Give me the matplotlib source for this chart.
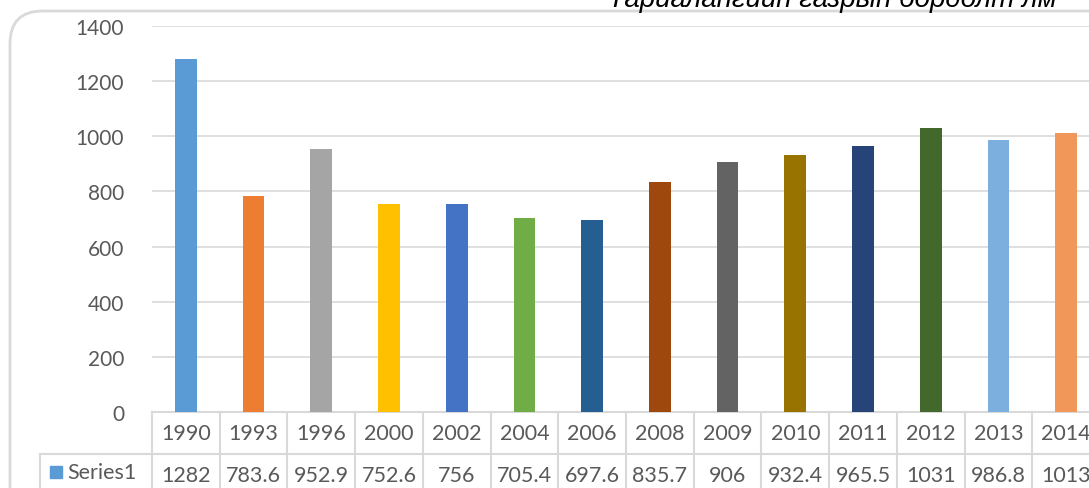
import matplotlib
matplotlib.use("Agg")
from matplotlib import pyplot as plt
from matplotlib import transforms
from matplotlib.patches import FancyBboxPatch, Rectangle

years = ["1990", "1993", "1996", "2000", "2002", "2004", "2006",
         "2008", "2009", "2010", "2011", "2012", "2013", "2014"]
values = [1282, 783.6, 952.9, 752.6, 756, 705.4, 697.6,
          835.7, 906, 932.4, 965.5, 1031, 986.8, 1013]
value_labels = ["1282", "783.6", "952.9", "752.6", "756", "705.4", "697.6",
                "835.7", "906", "932.4", "965.5", "1031", "986.8", "1013"]
colors = ["#5B9BD5", "#ED7D31", "#A5A5A5", "#FFC000", "#4472C4", "#70AD47",
          "#255E91", "#9E480E", "#636363", "#997300", "#264478", "#43682B",
          "#7CAFDD", "#F1975A"]
series_name = "Series1"
title = "Тариалангийн газрын бордолт лм"

plt.rcParams["font.family"] = ["Lato", "DejaVu Sans"]
W, H = 1089, 489
fig = plt.figure(figsize=(W / 100, H / 100), dpi=100)

# rounded chart border (runs off the right and bottom edges)
border = FancyBboxPatch((10 / W, -40 / H), 1120 / W, (H - 12 + 40) / H,
                        boxstyle="round,pad=0,rounding_size=0.03",
                        transform=fig.transFigure, fill=False,
                        edgecolor="#d9d9d9", linewidth=2, mutation_aspect=W / H)
fig.patches.append(border)

# title sits mostly above the visible area, like the cropped original
fig.text(608 / W, 1 - 7 / H, title, fontsize=20, style="italic",
         family=["Liberation Sans", "DejaVu Sans"],
         color="black", ha="left", va="baseline")

ax = fig.add_axes([152 / W, 76 / H, 948 / W, 386 / H])
x = list(range(len(years)))
ax.bar(x, values, width=0.32, color=colors, zorder=3)
ax.set_xlim(-0.5, len(years) - 0.5)
ax.set_ylim(0, 1400)
ax.set_yticks(range(0, 1401, 200))
ax.tick_params(axis="y", length=0, pad=20, labelsize=15, labelcolor="#595959")
ax.set_xticks([])
ax.grid(axis="y", color="#d9d9d9", linewidth=1.2, zorder=0)
for s in ax.spines.values():
    s.set_visible(False)

# data table below the plot
row_h = 42 / 386  # in axes fraction
line_kw = dict(color="#d9d9d9", linewidth=1.5, clip_on=False)
blend = transforms.blended_transform_factory(ax.transData, ax.transAxes)
n = len(years)
left_edge = -0.5 - 112 / 67.7
ax.plot([-0.5, n - 0.5], [0, 0], transform=blend, **line_kw)
ax.plot([left_edge, n - 0.5], [-row_h, -row_h], transform=blend, **line_kw)
ax.plot([left_edge, left_edge], [-row_h, -2.5 * row_h], transform=blend, **line_kw)
for i in range(n + 1):
    ax.plot([i - 0.5, i - 0.5], [0, -2.5 * row_h], transform=blend, **line_kw)
for i in range(n):
    ax.text(i, -0.5 * row_h, years[i], transform=blend, ha="center",
            va="center", fontsize=15.5, color="#595959", clip_on=False)
    ax.text(i, -1.5 * row_h, value_labels[i], transform=blend, ha="center",
            va="center", fontsize=15.5, color="#595959", clip_on=False)

# legend key in the table
fig.patches.append(Rectangle((50 / W, (489 - 479) / H), 12 / W, 12 / H,
                             transform=fig.transFigure, color=colors[0]))
fig.text(67 / W, (489 - 473) / H, series_name, fontsize=15.5, color="#595959",
         ha="left", va="center")

fig.savefig("out.png", dpi=100)
